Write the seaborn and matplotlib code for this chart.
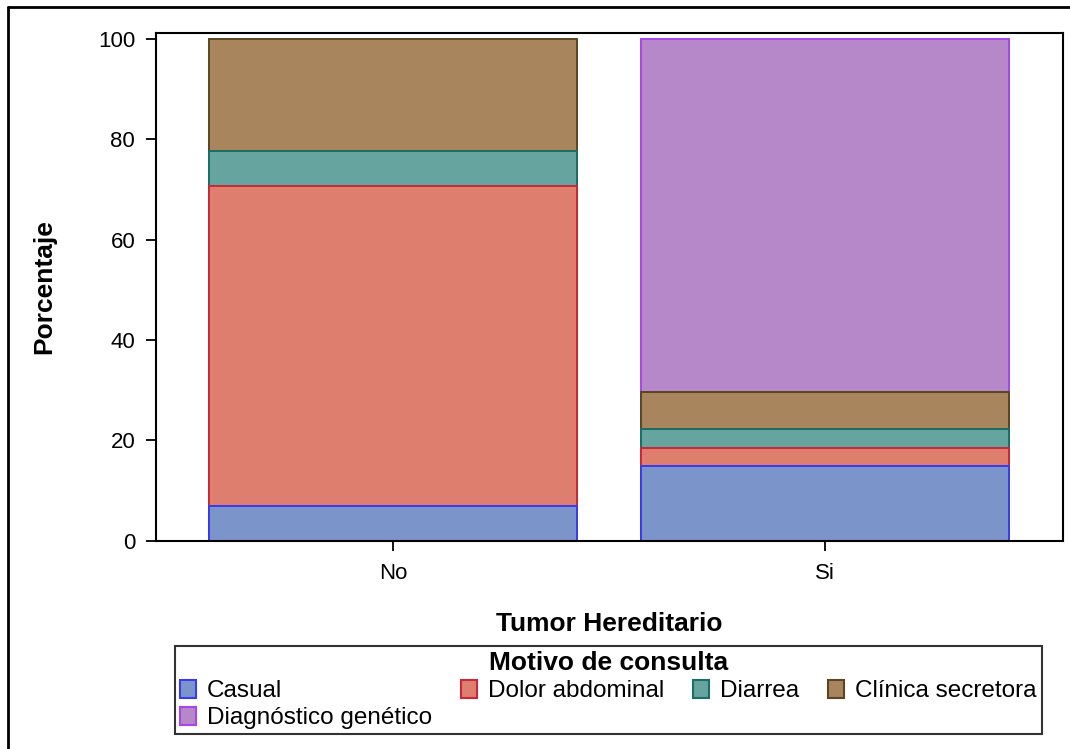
import numpy as np
import pandas as pd
import matplotlib.pyplot as plt
import seaborn as sns
from matplotlib.patches import Patch
from matplotlib.lines import Line2D

# --- Datos ---
GRUPOS = ["No", "Si"]
MOTIVOS = ["Casual", "Dolor abdominal", "Diarrea", "Clínica secretora", "Diagnóstico genético"]
PCT_NO = [6.9, 63.8, 6.9, 22.4, 0.0]
PCT_SI = [14.8, 3.7, 3.7, 7.4, 70.4]

RELLENO = ["#7b94ca", "#de7e6f", "#66a59f", "#a8855c", "#b688ca"]
BORDE = ["#3a3af0", "#c8283a", "#1b6e63", "#5b4523", "#a845e8"]

sns.set_style("white")
plt.rcParams['font.family'] = ['Liberation Sans', 'DejaVu Sans']
plt.rcParams['text.color'] = 'black'

df = pd.DataFrame({"grupo": np.repeat(GRUPOS, len(MOTIVOS)),
                   "motivo": MOTIVOS * len(GRUPOS),
                   "pct": PCT_NO + PCT_SI})
df["acum"] = df.groupby("grupo")["pct"].cumsum()

fig = plt.figure(figsize=(10.7, 7.49), dpi=100)
ax = fig.add_axes([156 / 1070, 1 - 541 / 749, 907 / 1070, 508 / 749])

# de arriba hacia abajo para que cada segmento tape al anterior
for i in reversed(range(len(MOTIVOS))):
    sub = df[df["motivo"] == MOTIVOS[i]]
    sub = sub[sub["pct"] > 0]
    sns.barplot(data=sub, x="grupo", y="acum", order=GRUPOS, color=RELLENO[i],
                edgecolor=BORDE[i], linewidth=1.4, width=0.85, saturation=1, ax=ax)

ax.set_xlim(-0.5486, 1.551)
ax.set_ylim(-0.06, 101.2)
ax.set_yticks([0, 20, 40, 60, 80, 100])
ax.tick_params(axis='both', labelsize=16, length=7, width=1.3, direction='out',
               left=True, bottom=True, colors='black', labelcolor='black')
ax.tick_params(axis='y', pad=8)
ax.tick_params(axis='x', pad=9)
for s in ax.spines.values():
    s.set_color('black')
    s.set_linewidth(1.5)
ax.set_xlabel("Tumor Hereditario", fontsize=19, fontweight='bold', labelpad=20, color='black')
ax.set_ylabel("Porcentaje", fontsize=19, fontweight='bold', labelpad=30, color='black')

orden = [0, 4, 1, 2, 3]
handles = [Patch(facecolor=RELLENO[i], edgecolor=BORDE[i], linewidth=1.5) for i in orden]
labels = [MOTIVOS[i] for i in orden]
leg = fig.legend(handles, labels, ncol=4, loc='upper center',
                 bbox_to_anchor=(608.5 / 1070, 1 - 646 / 749),
                 title="Motivo de consulta", fontsize=17.5,
                 title_fontproperties={'weight': 'bold', 'size': 19},
                 frameon=True, fancybox=False, edgecolor='black',
                 handlelength=0.65, handleheight=0.75, handletextpad=0.45,
                 columnspacing=1.2, labelspacing=0.2, borderpad=0.2,
                 borderaxespad=0)
leg.get_frame().set_linewidth(1.5)

# borde del gráfico (izquierda y arriba)
fig.add_artist(Line2D([8 / 1070, 8 / 1070], [0, 1 - 7 / 749], transform=fig.transFigure,
                      color='black', linewidth=2))
fig.add_artist(Line2D([8 / 1070, 1], [1 - 7 / 749, 1 - 7 / 749], transform=fig.transFigure,
                      color='black', linewidth=2))

fig.savefig("out.png", dpi=100)
